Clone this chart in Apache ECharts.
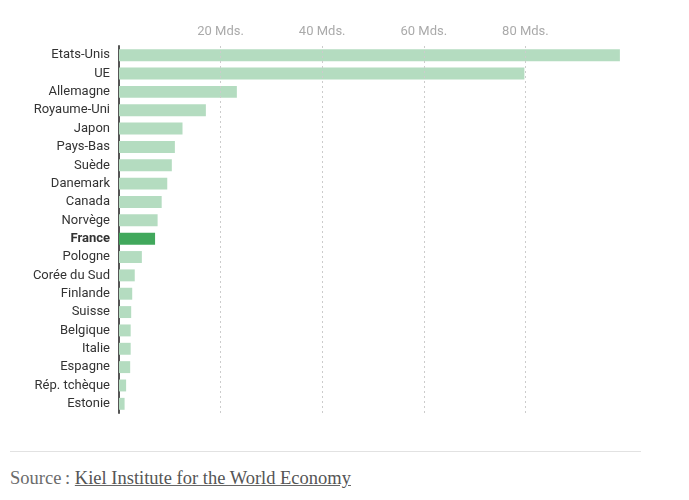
<!DOCTYPE html>
<html><head><meta charset="utf-8">
<script src="https://cdn.jsdelivr.net/npm/echarts@6/dist/echarts.min.js"></script>
<style>
html,body{margin:0;padding:0;background:#fff;}
#c{position:absolute;left:0;top:0;width:689px;height:440px;}
#rule{position:absolute;left:10px;top:451px;width:631px;height:1px;background:#e2e2e2;}
#src{position:absolute;left:10px;top:468px;font-family:"Liberation Serif","DejaVu Serif",serif;font-size:18.5px;color:#6b6b6b;letter-spacing:0px;}
#src span{color:#555;text-decoration:underline;text-decoration-color:#666;}
</style></head>
<body>
<div id="c"></div>
<div id="rule"></div>
<div id="src">Source&#8239;: <span>Kiel Institute for the World Economy</span></div>
<script>
const categories = ["Etats-Unis","UE","Allemagne","Royaume-Uni","Japon","Pays-Bas","Suède","Danemark","Canada","Norvège","France","Pologne","Corée du Sud","Finlande","Suisse","Belgique","Italie","Espagne","Rép. tchèque","Estonie"];
const values = [98.6,79.8,23.2,17.1,12.5,11.0,10.4,9.5,8.4,7.6,7.1,4.5,3.1,2.6,2.4,2.3,2.3,2.2,1.4,1.1];
const highlight = "France";
const tickValues = [20,40,60,80];
const tickSuffix = " Mds.";

const chart = echarts.init(document.getElementById('c'));
chart.setOption({
  animation:false,
  grid:{left:119,top:46,width:508,height:367,containLabel:false},
  xAxis:{type:'value',position:'top',min:0,max:100,interval:20,
    axisLine:{show:false},axisTick:{show:false},splitLine:{show:false},
    axisLabel:{margin:8,color:'#aaa',fontFamily:'Roboto',fontSize:13,
      formatter:v=>tickValues.includes(v)?v+tickSuffix:''}},
  yAxis:{type:'category',inverse:true,data:categories,
    axisLine:{show:true,lineStyle:{color:'#555',width:2}},
    axisTick:{show:false},
    axisLabel:{margin:9,fontFamily:'Roboto',fontSize:13,color:'#333',
      formatter:v=>v===highlight?'{b|'+v+'}':v,
      rich:{b:{fontWeight:'bold',fontFamily:'Roboto',fontSize:13,color:'#333'}}}},
  series:[{type:'bar',barCategoryGap:'35%',
    data:values.map((v,i)=>({value:v,itemStyle:{color:categories[i]===highlight?'#41a85c':'#b4dcc0'}})),
    markLine:{silent:true,symbol:'none',label:{show:false},
      lineStyle:{color:'#ccc',type:[2,3],width:1},
      data:tickValues.map(t=>({xAxis:t}))}}]
});
</script>
</body></html>
